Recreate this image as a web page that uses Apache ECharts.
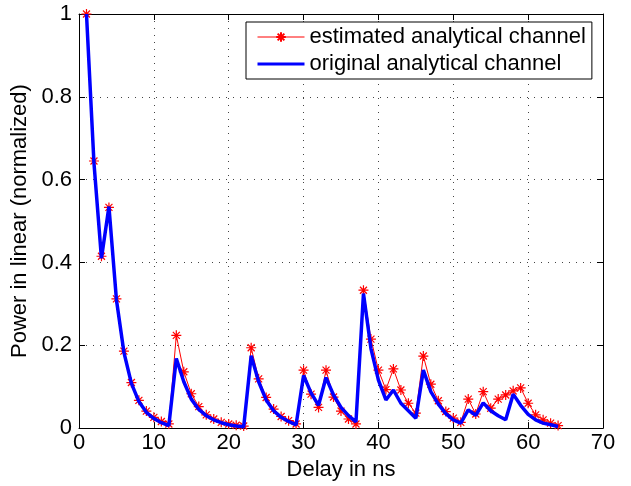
<!DOCTYPE html>
<html>
<head>
<meta charset="utf-8">
<script src="https://cdn.jsdelivr.net/npm/echarts@6/dist/echarts.min.js"></script>
<style>
  html, body { margin: 0; padding: 0; background: #fff; }
  #chart { width: 631px; height: 486px; }
</style>
</head>
<body>
<div id="chart"></div>
<script>
// delay taps (ns)
const delays = [1, 2, 3, 4, 5, 6, 7, 8, 9, 10, 11, 12, 13, 14, 15, 16,
  17, 18, 19, 20, 21, 22, 23, 24, 25, 26, 27, 28, 29, 30, 31, 32,
  33, 34, 35, 36, 37, 38, 39, 40, 41, 42, 43, 44, 45, 46, 47, 48,
  49, 50, 51, 52, 53, 54, 55, 56, 57, 58, 59, 60, 61, 62, 63, 64];

const estimated = [1.0, 0.645, 0.415, 0.533, 0.312, 0.186, 0.11, 0.067, 0.041, 0.026, 0.016, 0.01,
  0.224, 0.136, 0.083, 0.052, 0.032, 0.022, 0.014, 0.01, 0.007, 0.005,
  0.194, 0.119, 0.074, 0.046, 0.028, 0.018, 0.01,
  0.14, 0.082, 0.05, 0.14, 0.075, 0.041, 0.022, 0.01,
  0.333, 0.215, 0.14, 0.093, 0.143, 0.092, 0.06, 0.036,
  0.174, 0.106, 0.066, 0.04, 0.024, 0.014,
  0.07, 0.034, 0.088, 0.048, 0.07, 0.08, 0.09, 0.097, 0.06, 0.032, 0.02, 0.012, 0.006];

const original = [1.0, 0.64, 0.41, 0.535, 0.31, 0.183, 0.108, 0.064, 0.038, 0.023, 0.013, 0.006,
  0.168, 0.112, 0.07, 0.045, 0.03, 0.02, 0.013, 0.008, 0.005, 0.003,
  0.175, 0.112, 0.068, 0.042, 0.026, 0.016, 0.008,
  0.127, 0.085, 0.055, 0.122, 0.08, 0.05, 0.03, 0.015,
  0.325, 0.192, 0.116, 0.068, 0.092, 0.06, 0.042, 0.024,
  0.14, 0.088, 0.058, 0.035, 0.02, 0.012,
  0.044, 0.031, 0.061, 0.042, 0.03, 0.02, 0.082, 0.055, 0.033, 0.02, 0.012, 0.008, 0.004];

const seriesNames = ['estimated analytical channel', 'original analytical channel'];

const FONT = 'Liberation Sans, Arial, sans-serif';
const asterisk = 'path://M5 0L5 10M0 5L10 5M1.5 1.5L8.5 8.5M8.5 1.5L1.5 8.5';

const gridLine = { show: true, lineStyle: { color: '#444', type: [1, 6], width: 1 } };
const frameLine = { show: true, onZero: false, lineStyle: { color: '#000', width: 1 } };
const tickIn = { show: true, inside: true, length: 6, lineStyle: { color: '#000' } };

const chart = echarts.init(document.getElementById('chart'));

chart.setOption({
  animation: false,
  backgroundColor: '#fff',
  textStyle: { fontFamily: FONT, color: '#000' },
  grid: { left: 79, right: 28, top: 14, bottom: 56, containLabel: false },
  legend: {
    data: [
      { name: seriesNames[0], lineStyle: { width: 1 } },
      { name: seriesNames[1], lineStyle: { width: 3 }, itemStyle: { opacity: 0 } }
    ],
    orient: 'vertical',
    left: 246,
    top: 22,
    width: 354,
    padding: [4, 6, 4, 10],
    itemGap: 5,
    itemWidth: 47,
    itemHeight: 12,
    backgroundColor: '#fff',
    borderColor: '#000',
    borderWidth: 1,
    textStyle: { fontFamily: FONT, fontSize: 22, color: '#000' }
  },
  xAxis: [{
    type: 'value', min: 0, max: 70, interval: 10,
    name: 'Delay in ns', nameLocation: 'middle', nameGap: 25,
    nameTextStyle: { fontSize: 22, color: '#000', fontFamily: FONT },
    axisLine: frameLine, axisTick: tickIn, splitLine: gridLine,
    axisLabel: { fontSize: 22, color: '#000', margin: 4, fontFamily: FONT }
  }, {
    type: 'value', min: 0, max: 70, interval: 10, position: 'top',
    axisLine: frameLine, axisTick: tickIn, splitLine: { show: false },
    axisLabel: { show: false }
  }],
  yAxis: [{
    type: 'value', min: 0, max: 1, interval: 0.2,
    name: 'Power in linear (normalized)', nameLocation: 'middle', nameGap: 46,
    nameTextStyle: { fontSize: 22, color: '#000', fontFamily: FONT },
    axisLine: frameLine, axisTick: tickIn, splitLine: gridLine,
    axisLabel: { fontSize: 22, color: '#000', margin: 7, fontFamily: FONT }
  }, {
    type: 'value', min: 0, max: 1, interval: 0.2, position: 'right',
    axisLine: frameLine, axisTick: tickIn, splitLine: { show: false },
    axisLabel: { show: false }
  }],
  series: [{
    name: seriesNames[0],
    type: 'line',
    data: delays.map((d, i) => [d, estimated[i]]),
    symbol: asterisk,
    symbolSize: 10,
    showAllSymbol: true,
    lineStyle: { color: '#ff0000', width: 1 },
    itemStyle: { color: 'rgba(0,0,0,0)', borderColor: '#ff0000', borderWidth: 1.2 },
    z: 2
  }, {
    name: seriesNames[1],
    type: 'line',
    data: delays.map((d, i) => [d, original[i]]),
    symbol: 'none',
    lineStyle: { color: '#0000ff', width: 3.5 },
    itemStyle: { color: '#0000ff' },
    z: 3
  }]
});
</script>
</body>
</html>
